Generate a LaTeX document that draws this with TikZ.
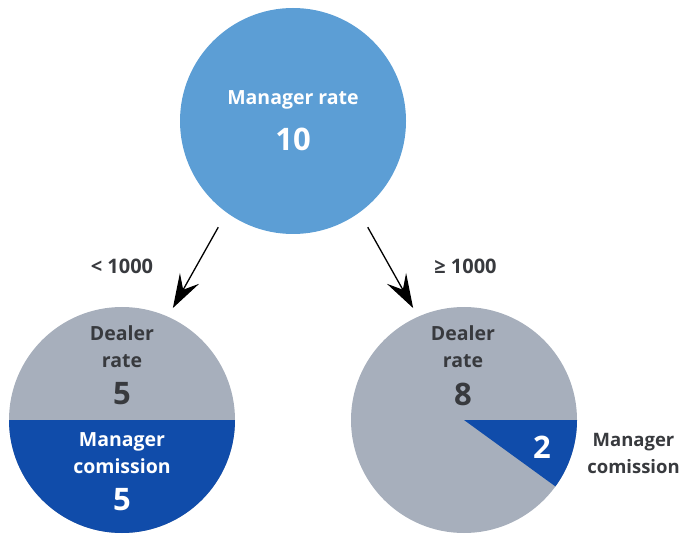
\documentclass[tikz,border=0pt]{standalone}
\usepackage{fontspec}
\setmainfont{Open Sans}
\usetikzlibrary{arrows.meta, positioning, calc}

\definecolor{rateblue}{RGB}{92,158,213}
\definecolor{dealergrey}{RGB}{167,175,188}
\definecolor{comblue}{RGB}{16,76,170}
\definecolor{inkgrey}{RGB}{56,58,62}

\begin{document}
\begin{tikzpicture}[
    x=1pt, y=1pt,
    disc/.style={circle, minimum size=226pt, inner sep=0pt, outer sep=0pt},
    lbl/.style={font=\fontsize{19.5}{27}\selectfont\bfseries, align=center},
    num/.style={font=\fontsize{31}{32}\selectfont\bfseries},
    cond/.style={font=\fontsize{20}{22}\selectfont\bfseries, text=inkgrey},
    arrow/.style={-{Stealth[length=34pt, width=22pt, inset=13pt]}, line width=1.3pt}
]
    \useasboundingbox (0,0) rectangle (687,533);

    % Manager rate
    \node[disc, fill=rateblue] (mgr) at (293,412) {};
    \node[lbl, text=white] (mgrtxt) at (293,433) {Manager rate};
    \node[num, text=white] (mgrnum) at (293,394) {10};

    % Dealer rate below 1000
    \node[disc, fill=dealergrey] (lo) at (122,113) {};
    \fill[comblue] (lo.west) arc[start angle=180, end angle=360, radius=113pt] -- cycle;
    \node[lbl, text=inkgrey] (lotxt) at (122,186.5) {Dealer\\rate};
    \node[num, text=inkgrey] (lonum) at (122,139) {5};
    \node[lbl, text=white] (locomtxt) at (122,79.5) {Manager\\comission};
    \node[num, text=white] (locomnum) at (122,33) {5};

    % Dealer rate from 1000
    \node[disc, fill=dealergrey] (hi) at (464,113) {};
    \fill[comblue] (hi.center) -- (hi.east) arc[start angle=0, end angle=-36, radius=113pt] -- cycle;
    \node[lbl, text=inkgrey] (hitxt) at (463,186.5) {Dealer\\rate};
    \node[num, text=inkgrey] (hinum) at (463,139) {8};
    \node[num, text=white] (hicomnum) at (542,86) {2};
    \node[lbl, font=\fontsize{18.5}{27}\selectfont\bfseries, text=inkgrey] (hicomtxt) at (633.5,79.5) {Manager\\comission};

    % Arrows
    \draw[arrow, shorten <=17pt, shorten >=10pt] (mgr.234) -- (lo.66);
    \draw[arrow, shorten <=17pt, shorten >=10pt] (mgr.306) -- (hi.114);
    \node[cond] (lowcond) at (122,266.5) {< 1000};
    \node[cond] (highcond) at (465.5,266.5) {≥ 1000};
\end{tikzpicture}
\end{document}
